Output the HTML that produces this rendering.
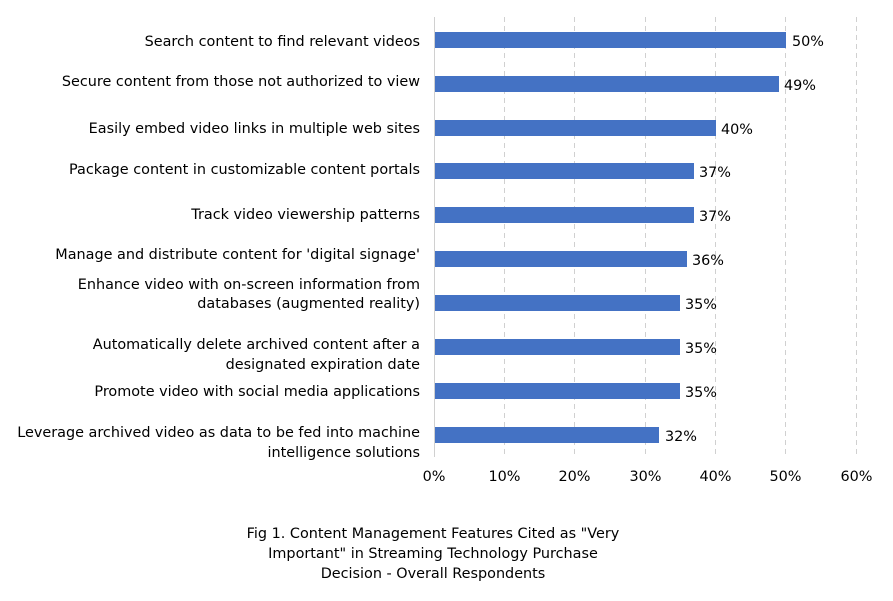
<!DOCTYPE html>
<html><head><meta charset="utf-8"><style>
body{margin:0;background:#fff;width:893px;height:597px;overflow:hidden;font-family:"DejaVu Sans","Liberation Sans",sans-serif;color:#000}
</style></head><body>
<svg width="893" height="597" xmlns="http://www.w3.org/2000/svg" font-family="DejaVu Sans, Liberation Sans, sans-serif" font-size="14.4">
<g stroke="#d0d0d0" stroke-width="1" stroke-dasharray="5,4">
<line x1="504.5" y1="17" x2="504.5" y2="457"/>
<line x1="574.5" y1="17" x2="574.5" y2="457"/>
<line x1="645.5" y1="17" x2="645.5" y2="457"/>
<line x1="715.5" y1="17" x2="715.5" y2="457"/>
<line x1="785.5" y1="17" x2="785.5" y2="457"/>
<line x1="856.5" y1="17" x2="856.5" y2="457"/>
</g>
<line x1="434.5" y1="17" x2="434.5" y2="457" stroke="#d0d0d0"/>
<g fill="#4472c4">
<rect x="435" y="32" width="351" height="16"/>
<rect x="435" y="76" width="344" height="16"/>
<rect x="435" y="120" width="281" height="16"/>
<rect x="435" y="163" width="259" height="16"/>
<rect x="435" y="207" width="259" height="16"/>
<rect x="435" y="251" width="252" height="16"/>
<rect x="435" y="295" width="245" height="16"/>
<rect x="435" y="339" width="245" height="16"/>
<rect x="435" y="383" width="245" height="16"/>
<rect x="435" y="427" width="224" height="16"/>
</g>
<g>
<text x="792" y="46">50%</text>
<text x="784" y="90">49%</text>
<text x="721" y="134">40%</text>
<text x="699" y="177">37%</text>
<text x="699" y="221">37%</text>
<text x="692" y="265">36%</text>
<text x="685" y="309">35%</text>
<text x="685" y="353">35%</text>
<text x="685" y="397">35%</text>
<text x="665" y="441">32%</text>
</g>
<g text-anchor="end">
<text x="420" y="46">Search content to find relevant videos</text>
<text x="420" y="86">Secure content from those not authorized to view</text>
<text x="420" y="133">Easily embed video links in multiple web sites</text>
<text x="420" y="174">Package content in customizable content portals</text>
<text x="420" y="219">Track video viewership patterns</text>
<text x="420" y="259">Manage and distribute content for 'digital signage'</text>
<text x="420" y="289">Enhance video with on-screen information from</text>
<text x="420" y="308">databases (augmented reality)</text>
<text x="420" y="349">Automatically delete archived content after a</text>
<text x="420" y="369">designated expiration date</text>
<text x="420" y="396">Promote video with social media applications</text>
<text x="420" y="437">Leverage archived video as data to be fed into machine</text>
<text x="420" y="457">intelligence solutions</text>
</g>
<g text-anchor="middle">
<text x="434" y="481">0%</text>
<text x="504.5" y="481">10%</text>
<text x="574.5" y="481">20%</text>
<text x="645.5" y="481">30%</text>
<text x="715.5" y="481">40%</text>
<text x="785.5" y="481">50%</text>
<text x="856.5" y="481">60%</text>
<text x="433" y="538">Fig 1. Content Management Features Cited as "Very</text>
<text x="433" y="558">Important" in Streaming Technology Purchase</text>
<text x="433" y="578">Decision - Overall Respondents</text>
</g>
</svg>
</body></html>
